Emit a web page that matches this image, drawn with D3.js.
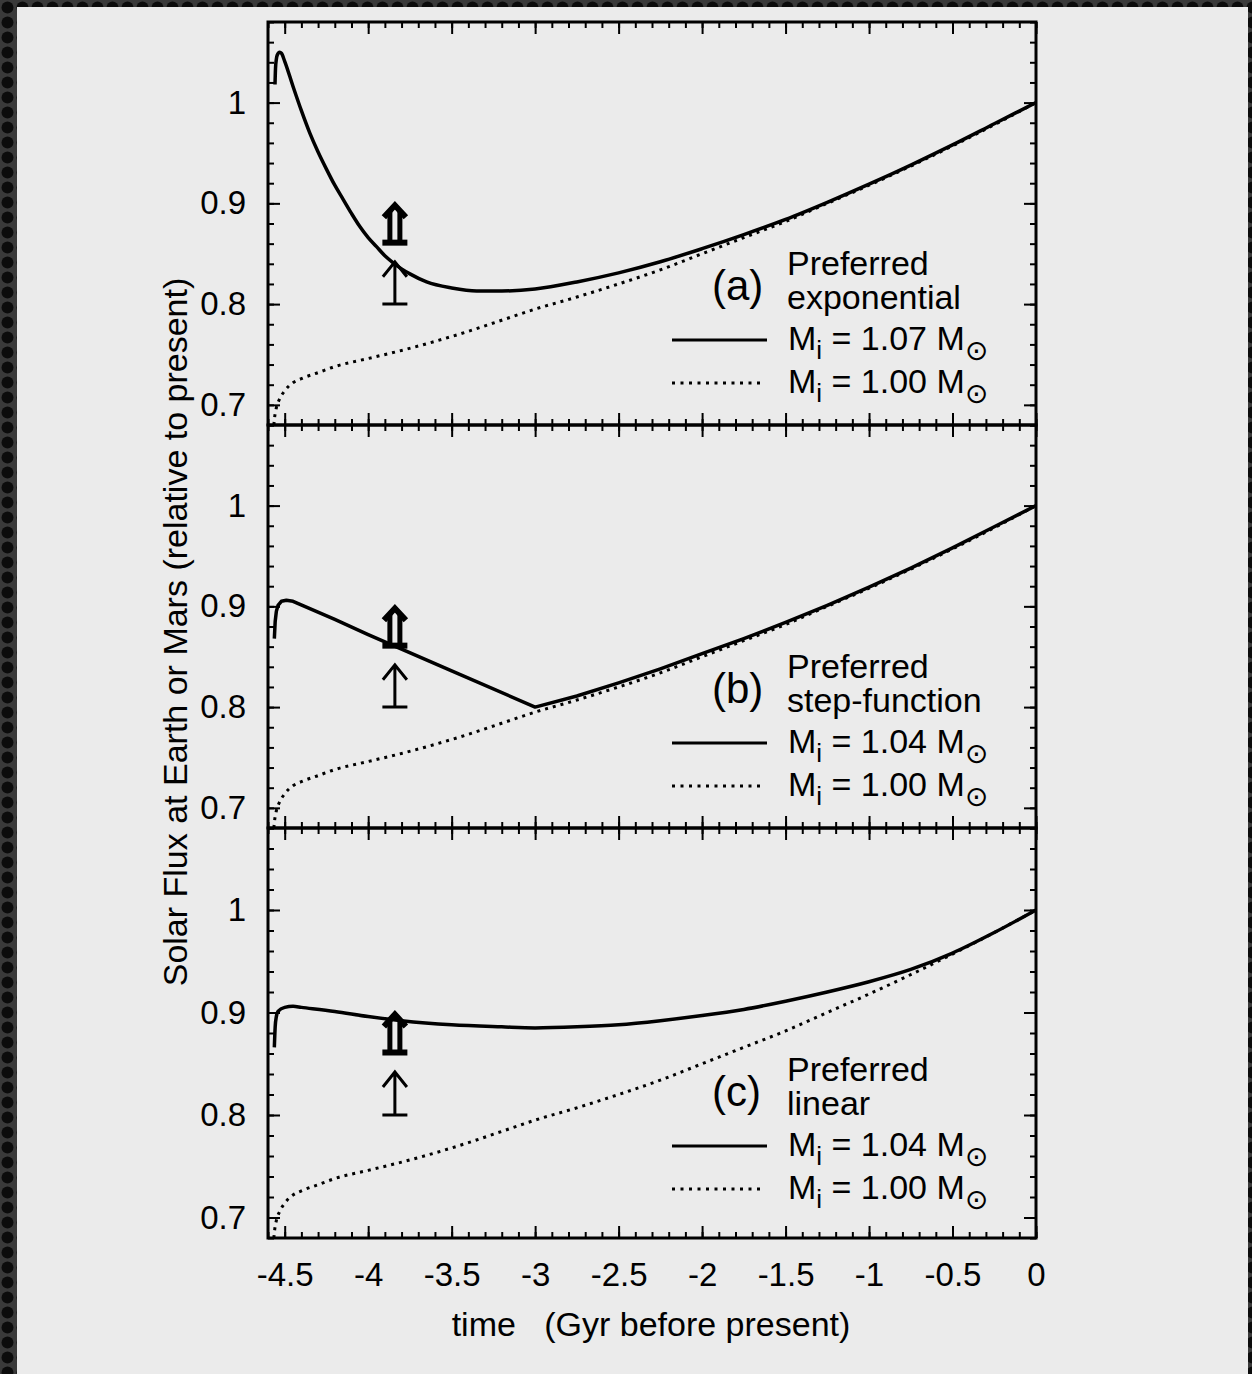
<!DOCTYPE html>
<html>
<head>
<meta charset="utf-8">
<script src="https://cdn.jsdelivr.net/npm/d3@7"></script>
<style>
  html, body { margin: 0; padding: 0; background: #1a1a1a; }
  svg { display: block; }
  text { font-family: "Liberation Sans", Arial, Helvetica, sans-serif; fill: #000; }
</style>
</head>
<body>
<svg id="chart" width="1252" height="1374"></svg>
<script>
// reference track: M_i = 1.00 Msun (dotted, same in every panel)
const refTime = [-4.57, -4.565, -4.56, -4.55, -4.53, -4.5, -4.45, -4.4, -4.3, -4.2, -4.0, -3.8, -3.6, -3.4, -3.2, -3.0,
  -2.75, -2.5, -2.25, -2.0, -1.75, -1.5, -1.25, -1.0, -0.75, -0.5, -0.25, 0];
const refFlux = [0.672, 0.680, 0.688, 0.697, 0.706, 0.714, 0.722, 0.726, 0.732, 0.738, 0.746, 0.754, 0.763, 0.773, 0.784, 0.795,
  0.807, 0.820, 0.834, 0.850, 0.866, 0.882, 0.900, 0.918, 0.937, 0.957, 0.978, 1.000];

// (a) exponential mass loss, M_i = 1.07
const expTime = [-4.558, -4.555, -4.55, -4.545, -4.53, -4.52, -4.5, -4.45, -4.4, -4.35, -4.3, -4.25, -4.2, -4.15, -4.1, -4.05, -4.0,
  -3.95, -3.9, -3.85, -3.8, -3.75, -3.65, -3.5, -3.35, -3.2, -3.0, -2.75, -2.5, -2.25, -2.0, -1.75, -1.5, -1.25, -1.0,
  -0.75, -0.5, -0.25, 0];
const expFlux = [1.018, 1.034, 1.043, 1.047, 1.050, 1.049, 1.041, 1.016, 0.992, 0.970, 0.951, 0.934, 0.918, 0.904, 0.890, 0.877, 0.866,
  0.857, 0.848, 0.841, 0.835, 0.830, 0.822, 0.816, 0.813, 0.813, 0.815, 0.822, 0.831, 0.842, 0.855, 0.869, 0.884, 0.901, 0.919,
  0.938, 0.958, 0.979, 1.000];

// (b) step-function mass loss, M_i = 1.04
const stepTime = [-4.562, -4.557, -4.55, -4.54, -4.52, -4.49, -4.45, -4.2, -4.0, -3.5, -3.0, -2.75, -2.5, -2.25, -2.0,
  -1.75, -1.5, -1.25, -1.0, -0.75, -0.5, -0.25, 0];
const stepFlux = [0.868, 0.885, 0.895, 0.901, 0.905, 0.906, 0.905, 0.887, 0.872, 0.836, 0.800, 0.811, 0.824, 0.838, 0.853,
  0.868, 0.884, 0.901, 0.919, 0.938, 0.958, 0.979, 1.000];

// (c) linear mass loss, M_i = 1.04
const linTime = [-4.562, -4.557, -4.55, -4.54, -4.5, -4.45, -4.4, -4.2, -4.0, -3.8, -3.5, -3.2, -3.0, -2.75, -2.5, -2.25,
  -2.0, -1.75, -1.5, -1.25, -1.0, -0.75, -0.5, -0.25, 0];
const linFlux = [0.866, 0.886, 0.896, 0.901, 0.905, 0.906, 0.905, 0.901, 0.896, 0.892, 0.888, 0.886, 0.885, 0.886, 0.888, 0.892,
  0.897, 0.903, 0.911, 0.920, 0.930, 0.942, 0.958, 0.978, 1.000];

// lower-limit arrows
const arrowTime = -3.84;
const thinArrow = [0.80, 0.842];   // base, tip
const thickArrow = [0.86, 0.903];

const panelTags = ['(a)', '(b)', '(c)'];
const panelNames = ['exponential', 'step-function', 'linear'];
const panelMass = ['1.07', '1.04', '1.04'];
const refMass = '1.00';

const xTickValues = [-4.5, -4, -3.5, -3, -2.5, -2, -1.5, -1, -0.5, 0];
const xTickLabels = ['-4.5', '-4', '-3.5', '-3', '-2.5', '-2', '-1.5', '-1', '-0.5', '0'];
const yTickValues = [0.7, 0.8, 0.9, 1.0];
const yTickLabels = ['0.7', '0.8', '0.9', '1'];

const xTitle = 'time   (Gyr before present)';
const yTitle = 'Solar Flux at Earth or Mars (relative to present)';

const W = 1252, H = 1374;
const left = 268, right = 1036;
const panelEdges = [22, 425, 828, 1238];
const font = '"Liberation Sans", Arial, Helvetica, sans-serif';

const svg = d3.select('#chart');

// textured dark surround + light page
const defs = svg.append('defs');
const pat = defs.append('pattern')
  .attr('id', 'tex').attr('width', 15).attr('height', 15)
  .attr('patternUnits', 'userSpaceOnUse');
pat.append('rect').attr('width', 15).attr('height', 15).attr('fill', '#3a3a3a');
pat.append('circle').attr('cx', 7.5).attr('cy', 7.5).attr('r', 6).attr('fill', '#0c0c0c');
svg.append('rect').attr('width', W).attr('height', H).attr('fill', 'url(#tex)');
svg.append('rect').attr('x', 17).attr('y', 7).attr('width', 1231).attr('height', H - 7).attr('fill', '#ebebeb');

const x = d3.scaleLinear().domain([-4.6, 0]).range([left, right]);
const xMinor = d3.range(-46, 1).map(d => d / 10);
const yMinor = d3.range(34, 55).map(d => d / 50);

const series = [
  {time: expTime, flux: expFlux, curve: d3.curveMonotoneX},
  {time: stepTime, flux: stepFlux, curve: d3.curveLinear},
  {time: linTime, flux: linFlux, curve: d3.curveMonotoneX}
];

function styleTicks(g, w) {
  g.select('.domain').remove();
  g.selectAll('.tick line').attr('stroke', '#000').attr('stroke-width', w);
}

series.forEach((s, i) => {
  const top = panelEdges[i], bottom = panelEdges[i + 1];
  const y = d3.scaleLinear().domain([0.68, 1.08]).range([bottom, top]);
  const g = svg.append('g');

  defs.append('clipPath').attr('id', 'clip' + i)
    .append('rect').attr('x', left).attr('y', top).attr('width', right - left).attr('height', bottom - top);

  // y axes (left + right), major and minor
  g.append('g').attr('transform', `translate(${left},0)`)
    .call(d3.axisLeft(y).tickValues(yTickValues).tickSize(-12).tickPadding(22).tickFormat((d, k) => yTickLabels[k]))
    .attr('font-family', font).attr('font-size', 33)
    .call(a => styleTicks(a, 2));
  g.append('g').attr('transform', `translate(${left},0)`)
    .call(d3.axisLeft(y).tickValues(yMinor).tickSize(-6).tickFormat(''))
    .call(a => styleTicks(a, 2));
  g.append('g').attr('transform', `translate(${right},0)`)
    .call(d3.axisRight(y).tickValues(yTickValues).tickSize(-12).tickFormat(''))
    .call(a => styleTicks(a, 2));
  g.append('g').attr('transform', `translate(${right},0)`)
    .call(d3.axisRight(y).tickValues(yMinor).tickSize(-6).tickFormat(''))
    .call(a => styleTicks(a, 2));

  // x axes (top + bottom)
  g.append('g').attr('transform', `translate(0,${top})`)
    .call(d3.axisTop(x).tickValues(xTickValues).tickSize(-12).tickFormat(''))
    .call(a => styleTicks(a, 2));
  g.append('g').attr('transform', `translate(0,${top})`)
    .call(d3.axisTop(x).tickValues(xMinor).tickSize(-6).tickFormat(''))
    .call(a => styleTicks(a, 2));
  g.append('g').attr('transform', `translate(0,${bottom})`)
    .call(d3.axisBottom(x).tickValues(xTickValues).tickSize(-12).tickPadding(25)
      .tickFormat((d, k) => i === 2 ? xTickLabels[k] : ''))
    .attr('font-family', font).attr('font-size', 33)
    .call(a => styleTicks(a, 2));
  g.append('g').attr('transform', `translate(0,${bottom})`)
    .call(d3.axisBottom(x).tickValues(xMinor).tickSize(-6).tickFormat(''))
    .call(a => styleTicks(a, 2));

  g.append('rect')
    .attr('x', left).attr('y', top).attr('width', right - left).attr('height', bottom - top)
    .attr('fill', 'none').attr('stroke', '#000').attr('stroke-width', 3);

  // curves
  const plot = g.append('g').attr('clip-path', `url(#clip${i})`);
  const refLine = d3.line().x(d => x(d[0])).y(d => y(d[1])).curve(d3.curveMonotoneX);
  plot.append('path')
    .datum(d3.zip(refTime, refFlux))
    .attr('fill', 'none').attr('stroke', '#000').attr('stroke-width', 3)
    .attr('stroke-dasharray', '3,5')
    .attr('d', refLine);
  const line = d3.line().x(d => x(d[0])).y(d => y(d[1])).curve(s.curve);
  plot.append('path')
    .datum(d3.zip(s.time, s.flux))
    .attr('fill', 'none').attr('stroke', '#000').attr('stroke-width', 3.5)
    .attr('stroke-linejoin', 'round')
    .attr('d', line);

  // thin open arrow
  const ax = x(arrowTime);
  const tb = y(thinArrow[0]), tt = y(thinArrow[1]);
  plot.append('path')
    .attr('d', `M${ax - 12.5},${tb}H${ax + 12.5}M${ax},${tb}V${tt}M${ax - 12},${tt + 15}L${ax},${tt}L${ax + 12},${tt + 15}`)
    .attr('fill', 'none').attr('stroke', '#000').attr('stroke-width', 3);

  // thick double arrow
  const kb = y(thickArrow[0]), kt = y(thickArrow[1]);
  plot.append('path')
    .attr('d', `M${ax - 11},${kt + 17}L${ax},${kt + 5}L${ax + 11},${kt + 17}`)
    .attr('fill', 'none').attr('stroke', '#000').attr('stroke-width', 6)
    .attr('stroke-linejoin', 'miter');
  plot.append('rect').attr('x', ax - 7.5).attr('y', kt + 10).attr('width', 5).attr('height', kb - kt - 12).attr('fill', '#000');
  plot.append('rect').attr('x', ax + 2.5).attr('y', kt + 10).attr('width', 5).attr('height', kb - kt - 12).attr('fill', '#000');
  plot.append('rect').attr('x', ax - 12.5).attr('y', kb - 4).attr('width', 25).attr('height', 6).attr('fill', '#000');

  // legend
  const lg = g.append('g').attr('font-family', font);
  lg.append('text').attr('x', 712).attr('y', top + 278).attr('font-size', 42).text(panelTags[i]);
  lg.append('text').attr('x', 787).attr('y', top + 253).attr('font-size', 34).text('Preferred');
  lg.append('text').attr('x', 787).attr('y', top + 287).attr('font-size', 34).text(panelNames[i]);

  [[panelMass[i], null, 328, 767], [refMass, '3,5.5', 371, 762]].forEach(([m, dash, ty, x2]) => {
    lg.append('line')
      .attr('x1', 672).attr('x2', x2).attr('y1', top + ty - 10).attr('y2', top + ty - 10)
      .attr('stroke', '#000').attr('stroke-width', 3)
      .attr('stroke-dasharray', dash);
    const t = lg.append('text').attr('x', 788).attr('y', top + ty).attr('font-size', 34);
    t.append('tspan').text('M');
    t.append('tspan').attr('font-size', 26).attr('dy', 9).text('i');
    t.append('tspan').attr('dy', -9).text(' = ' + m + ' M');
    t.append('tspan').attr('font-size', 28).attr('dy', 10)
      .attr('font-family', '"DejaVu Sans", sans-serif').text('\u2299');
  });
});

// axis titles
svg.append('text')
  .attr('x', 651).attr('y', 1336)
  .attr('text-anchor', 'middle')
  .attr('font-size', 34)
  .style('white-space', 'pre')
  .text(xTitle);

svg.append('text')
  .attr('transform', 'translate(187,632) rotate(-90)')
  .attr('text-anchor', 'middle')
  .attr('font-size', 34)
  .text(yTitle);
</script>
</body>
</html>
